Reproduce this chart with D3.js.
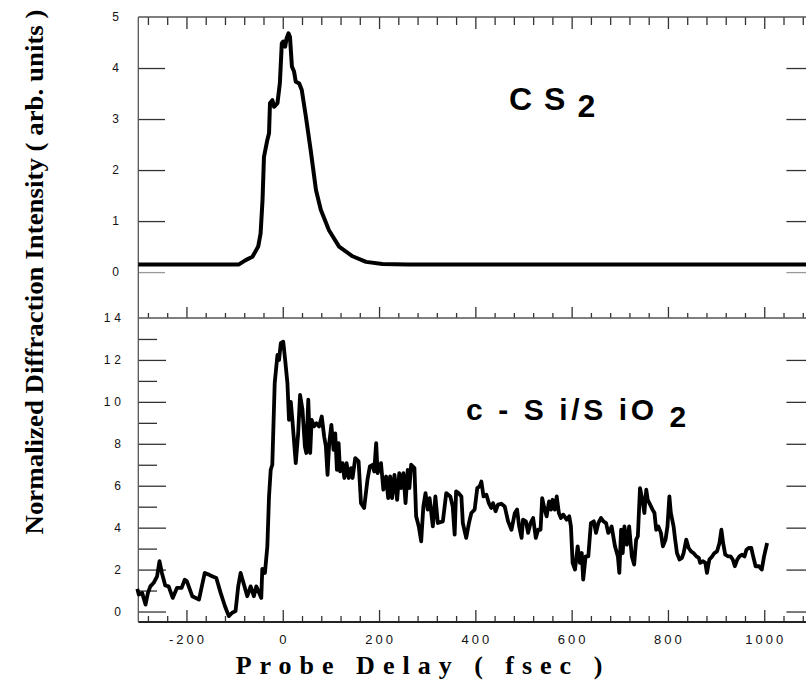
<!DOCTYPE html>
<html><head><meta charset="utf-8">
<script src="https://cdn.jsdelivr.net/npm/d3@7"></script>
<style>
html,body{margin:0;padding:0;background:#fff;}
svg{display:block;}
.axis path{display:none;}
.axis line{stroke:#333;stroke-width:1.3;}
</style></head>
<body>
<script>
// ---------- data ----------
const xTickValues = [-200, 0, 200, 400, 600, 800, 1000];
const xTickLabels = ["-200", "0", "200", "400", "600", "800", "1000"];
const topYTicks = [0, 1, 2, 3, 4, 5];
const topYLabels = ["0", "1", "2", "3", "4", "5"];
const botYTicks = [0, 2, 4, 6, 8, 10, 12, 14];
const botYLabels = ["0", "2", "4", "6", "8", "10", "12", "14"];

const cs2Delay  = [-300, -200, -120, -91, -77, -63, -51, -46, -42, -39, -32, -28.5, -26.5, -21.6, -18, -11, -6, -2, 1, 5, 8, 12, 15, 19, 23.5, 27, 34, 39.5, 48, 58, 69, 79, 96, 117, 145, 173, 207, 260, 400, 600, 800, 1000, 1090];
const cs2Signal = [0.15, 0.15, 0.15, 0.15, 0.235, 0.30, 0.50, 0.76, 1.41, 2.26, 2.59, 2.72, 3.31, 3.37, 3.24, 3.31, 3.70, 4.48, 4.52, 4.42, 4.58, 4.68, 4.61, 4.03, 3.93, 3.73, 3.70, 3.57, 3.05, 2.39, 1.61, 1.22, 0.82, 0.50, 0.31, 0.20, 0.16, 0.15, 0.15, 0.15, 0.15, 0.15, 0.15];

const siDelay = [-302, -299, -292, -285, -280, -275, -268, -261, -256, -251, -244, -237, -228.5, -219.6, -210, -203.5, -199, -188, -174, -162, -153.5, -146.7, -138, -129, -120, -112, -105, -98, -92.5, -87.5, -80.6, -73.7, -66.7, -60, -55, -49, -44.6, -42.5, -37, -32, -28.5, -25, -21.7, -16.7, -11, -7.7, -4, 1, 5, 9.7, 13, 16.7, 20, 27, 32, 36, 41, 46, 49, 53, 57, 60, 65, 70, 75.6, 81, 86, 89.6, 93, 96.5, 101, 105.5, 109, 112.5, 116, 119, 124, 128, 132.5, 137, 141.7, 145, 150.6, 157.5, 162.5, 169, 176, 181, 186.7, 190, 194, 197, 204, 209, 214.6, 219, 223, 227, 232, 237.5, 242, 246, 250.6, 255, 259.6, 263, 266.7, 273.5, 277, 282.5, 287.5, 292, 296.5, 301, 305, 311.7, 317, 322, 332.5, 339.6, 348, 353, 357, 360, 365, 371, 374, 381, 386.7, 391.7, 398.5, 404, 409, 412.5, 417, 423, 428, 433, 436.7, 442, 447, 454, 461, 468, 475, 482, 486.7, 491, 496, 499, 505, 509.6, 514.6, 520, 525.6, 530.4, 535.4, 538.8, 544, 548, 553, 557, 560.4, 565, 569, 573.5, 577.7, 582.5, 589.6, 595, 598.5, 602, 607, 612.5, 617, 621, 624, 629, 634.6, 640, 646, 650.6, 655.4, 661, 666, 671.5, 676, 680, 683, 690, 696, 699, 702.7, 706, 709.6, 714.6, 719.4, 725, 729.8, 734, 737.5, 742, 747, 751, 755, 758, 763, 768, 772, 775.6, 780, 785.4, 789.5, 795, 799, 803, 806, 811.7, 815, 818.7, 824, 829, 832.5, 838, 843, 848, 853, 859, 864, 867, 873, 877.7, 881, 886, 891.7, 896.5, 902, 907, 911, 914.6, 919, 925, 930, 934.6, 939, 944, 948.5, 954, 959, 963, 967.7, 973, 977, 982, 989, 994.8, 999.6, 1006];
const siSignal = [1.08, 0.81, 0.89, 0.33, 0.89, 1.2, 1.37, 1.68, 2.40, 1.84, 1.24, 1.2, 0.65, 1.13, 1.13, 1.52, 1.44, 0.73, 0.57, 1.84, 1.76, 1.68, 1.6, 0.89, 0.25, -0.22, -0.06, 0.02, 1.2, 1.84, 1.29, 0.73, 1.2, 0.73, 1.2, 0.89, 0.65, 2.03, 1.84, 3.11, 5.49, 6.76, 7.0, 10.9, 12.24, 12.0, 12.8, 12.87, 12.0, 10.9, 9.14, 10.0, 9.14, 7.08, 8.5, 10.33, 9.62, 7.87, 7.56, 10.1, 7.56, 9.14, 8.83, 8.98, 8.83, 9.3, 8.35, 7.87, 6.52, 8.03, 8.9, 7.71, 8.5, 6.76, 8.03, 6.68, 7.08, 6.37, 7.08, 6.37, 6.84, 6.37, 7.32, 7.16, 5.17, 4.94, 6.29, 6.92, 7.0, 6.68, 8.03, 6.6, 7.08, 5.81, 6.44, 5.41, 6.44, 5.41, 6.52, 5.33, 6.6, 5.89, 6.6, 5.17, 6.76, 5.89, 7.0, 6.84, 4.54, 4.06, 3.35, 5.01, 5.65, 4.86, 5.41, 4.06, 5.49, 4.22, 4.3, 5.65, 5.49, 5.01, 3.67, 5.73, 5.65, 5.49, 4.22, 3.51, 4.22, 4.7, 4.86, 5.89, 5.97, 6.2, 5.49, 5.57, 5.17, 4.94, 5.17, 4.78, 5.1, 5.14, 5.01, 4.3, 3.9, 4.7, 4.86, 4.06, 3.51, 4.38, 4.3, 3.75, 4.22, 4.46, 3.51, 3.9, 3.9, 5.41, 4.86, 4.54, 5.25, 4.86, 5.33, 4.86, 5.49, 4.7, 4.46, 4.62, 4.38, 4.54, 4.06, 2.32, 2.0, 3.11, 2.32, 2.79, 1.52, 2.63, 2.63, 4.22, 4.3, 3.75, 4.22, 4.46, 4.3, 4.22, 3.75, 3.9, 4.06, 3.11, 2.63, 1.84, 3.9, 2.79, 4.06, 3.19, 4.06, 2.63, 2.24, 3.43, 3.59, 5.89, 5.33, 4.7, 5.81, 5.33, 5.1, 4.86, 4.7, 3.9, 4.06, 3.75, 3.11, 3.43, 4.06, 5.49, 4.7, 4.06, 3.43, 2.79, 2.48, 2.56, 2.79, 3.43, 3.03, 2.87, 2.79, 2.63, 2.56, 2.32, 2.4, 2.32, 1.84, 2.48, 2.63, 2.79, 2.87, 3.27, 3.9, 3.27, 2.71, 2.63, 2.63, 2.48, 2.16, 2.48, 2.63, 2.71, 2.63, 2.95, 3.03, 3.03, 2.63, 2.16, 2.16, 2.0, 2.63, 3.27];

// ---------- layout ----------
const W = 806, H = 682;
const svg = d3.select("body").append("svg").attr("width", W).attr("height", H);

const x = d3.scaleLinear().domain([-300, 1100]).range([138.3, 812.4]);
const yTop = d3.scaleLinear().domain([-0.9, 5]).range([318, 17]);
const yBot = d3.scaleLinear().domain([-0.5, 14]).range([622, 318]);

const xMinor = d3.range(-280, 1100, 40).filter(v => v % 200 !== 0);

function axisG(gen, tx, ty) {
  return svg.append("g").attr("class", "axis").attr("transform", `translate(${tx},${ty})`).call(gen);
}
// top border ticks (downward)
axisG(d3.axisBottom(x).tickValues(xTickValues).tickSize(12).tickFormat(""), 0, 17);
axisG(d3.axisBottom(x).tickValues(xMinor).tickSize(8).tickFormat(""), 0, 17);
// panel border (upward)
axisG(d3.axisTop(x).tickValues(xTickValues).tickSize(11).tickFormat(""), 0, 318);
axisG(d3.axisTop(x).tickValues(xMinor).tickSize(5).tickFormat(""), 0, 318);
// bottom axis (upward)
axisG(d3.axisTop(x).tickValues(xTickValues).tickSize(12).tickFormat(""), 0, 622);
axisG(d3.axisTop(x).tickValues(xMinor).tickSize(6).tickFormat(""), 0, 622);

// left ticks
axisG(d3.axisRight(yTop).tickValues([1, 2, 3, 4]).tickSize(27).tickFormat(""), 138, 0);
axisG(d3.axisRight(yBot).tickValues([0, 2, 4, 6, 8, 10, 12]).tickSize(28).tickFormat(""), 138, 0);
axisG(d3.axisRight(yBot).tickValues([1, 3, 5, 7, 9, 11, 13]).tickSize(19).tickFormat(""), 138, 0);
// right ticks
axisG(d3.axisLeft(yTop).tickValues([1, 2, 3, 4]).tickSize(26).tickFormat(""), 812.4, 0);
axisG(d3.axisLeft(yBot).tickValues([0, 2, 4, 6, 8, 10, 12]).tickSize(26).tickFormat(""), 812.4, 0);
// gray zero ticks in top panel
const gz = axisG(d3.axisRight(yTop).tickValues([0]).tickSize(27).tickFormat(""), 138, 0);
gz.selectAll("line").style("stroke", "#999");
const gz2 = axisG(d3.axisLeft(yTop).tickValues([0]).tickSize(26).tickFormat(""), 812.4, 0);
gz2.selectAll("line").style("stroke", "#999");

// frame lines
svg.append("line").attr("x1", x(-300)).attr("x2", W).attr("y1", 17).attr("y2", 17).attr("stroke", "#555").attr("stroke-width", 1.3);
svg.append("line").attr("x1", x(-300)).attr("x2", W).attr("y1", 318).attr("y2", 318).attr("stroke", "#555").attr("stroke-width", 1.3);
svg.append("line").attr("x1", x(-300)).attr("x2", W).attr("y1", 622).attr("y2", 622).attr("stroke", "#222").attr("stroke-width", 1.8);
svg.append("line").attr("x1", x(-300)).attr("x2", x(-300)).attr("y1", 17).attr("y2", 622).attr("stroke", "#555").attr("stroke-width", 1.3);

// tick labels
const labFont = "'Liberation Sans', Arial, sans-serif";
svg.append("g").selectAll("text").data(topYTicks).join("text")
  .attr("x", 122).attr("y", d => yTop(d)).attr("dy", "0.35em")
  .attr("text-anchor", "end").attr("font-family", labFont).attr("font-size", 12)
  .attr("letter-spacing", 3).attr("fill", "#111")
  .text((d, i) => topYLabels[i]);
svg.append("g").selectAll("text").data(botYTicks).join("text")
  .attr("x", 125).attr("y", d => yBot(d)).attr("dy", "0.35em")
  .attr("text-anchor", "end").attr("font-family", labFont).attr("font-size", 12)
  .attr("letter-spacing", 4).attr("fill", "#111")
  .text((d, i) => botYLabels[i]);
svg.append("g").selectAll("text").data(xTickValues).join("text")
  .attr("x", d => x(d) + 1.5).attr("y", 644)
  .attr("text-anchor", "middle").attr("font-family", labFont).attr("font-size", 13)
  .attr("letter-spacing", 3).attr("fill", "#111")
  .text((d, i) => xTickLabels[i]);

// curves
const lineTop = d3.line().x((d, i) => x(cs2Delay[i])).y(d => yTop(d)).curve(d3.curveLinear);
svg.append("path").attr("d", lineTop(cs2Signal)).attr("fill", "none").attr("stroke", "#000")
  .attr("stroke-width", 4).attr("stroke-linejoin", "round");
const lineBot = d3.line().x((d, i) => x(siDelay[i])).y(d => yBot(d)).curve(d3.curveLinear);
svg.append("path").attr("d", lineBot(siSignal)).attr("fill", "none").attr("stroke", "#000")
  .attr("stroke-width", 3.8).attr("stroke-linejoin", "round");

// panel labels
const cs = svg.append("text").attr("x", 509).attr("y", 110)
  .attr("font-family", labFont).attr("font-weight", "bold").attr("font-size", 32)
  .attr("letter-spacing", 12).attr("fill", "#000");
cs.append("tspan").text("CS");
cs.append("tspan").attr("dy", 7).text("2");

const si = svg.append("text").attr("x", 466).attr("y", 420)
  .attr("font-family", labFont).attr("font-weight", "bold").attr("font-size", 30)
  .attr("letter-spacing", 3.6).attr("fill", "#000");
si.append("tspan").text("c - S i/S iO ");
si.append("tspan").attr("dy", 7).text("2");

// axis titles
const serif = "'Liberation Serif', 'Times New Roman', serif";
svg.append("text").attr("transform", "translate(43,272) rotate(-90)")
  .attr("text-anchor", "middle").attr("font-family", serif).attr("font-weight", "bold")
  .attr("font-size", 25).attr("textLength", 525).attr("lengthAdjust", "spacingAndGlyphs")
  .attr("fill", "#000")
  .text("Normalized Diffraction Intensity ( arb. units )");
svg.append("text").attr("x", 423).attr("y", 674)
  .attr("text-anchor", "middle").attr("font-family", serif).attr("font-weight", "bold")
  .attr("font-size", 26).attr("letter-spacing", 8).attr("fill", "#000")
  .text("Probe Delay ( fsec )");
</script>
</body></html>
